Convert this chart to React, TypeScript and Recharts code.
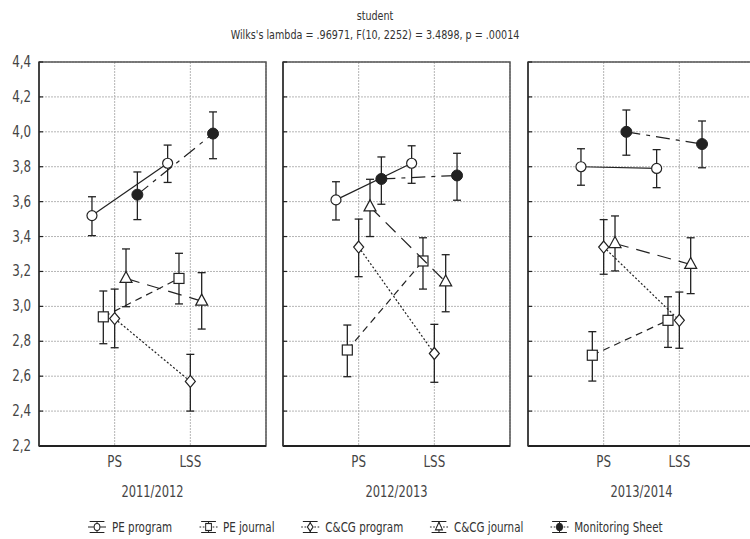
import React from 'react';
import {
  ScatterChart,
  Scatter,
  XAxis,
  YAxis,
  CartesianGrid,
  ErrorBar,
  ReferenceArea,
} from 'recharts';

// panels and categories
const periods = ['2011/2012', '2012/2013', '2013/2014'];
const stages = ['PS', 'LSS'];
const yTicks = [2.2, 2.4, 2.6, 2.8, 3.0, 3.2, 3.4, 3.6, 3.8, 4.0, 4.2, 4.4];

// means [panel][stage] and the error bar ends
const peProgram = [[3.52, 3.82], [3.61, 3.82], [3.8, 3.79]];
const peProgramLo = [[3.405, 3.71], [3.495, 3.705], [3.694, 3.68]];
const peProgramHi = [[3.628, 3.924], [3.714, 3.92], [3.903, 3.898]];

const peJournal = [[2.94, 3.16], [2.75, 3.26], [2.72, 2.92]];
const peJournalLo = [[2.786, 3.014], [2.597, 3.099], [2.572, 2.765]];
const peJournalHi = [[3.088, 3.304], [2.893, 3.393], [2.855, 3.055]];

const ccgProgram = [[2.93, 2.57], [3.34, 2.73], [3.34, 2.92]];
const ccgProgramLo = [[2.763, 2.4], [3.17, 2.565], [3.184, 2.76]];
const ccgProgramHi = [[3.099, 2.725], [3.5, 2.897], [3.497, 3.082]];

const ccgJournal = [[3.16, 3.03], [3.57, 3.14], [3.36, 3.24]];
const ccgJournalLo = [[2.998, 2.87], [3.4, 2.969], [3.203, 3.073]];
const ccgJournalHi = [[3.329, 3.193], [3.728, 3.296], [3.518, 3.393]];

const monitoring = [[3.64, 3.99], [3.73, 3.75], [4.0, 3.93]];
const monitoringLo = [[3.497, 3.846], [3.585, 3.608], [3.866, 3.794]];
const monitoringHi = [[3.77, 4.114], [3.856, 3.877], [4.125, 4.062]];

const INK = '#222';
const TXT = '#444';
const FONT = '"Liberation Sans Narrow", "DejaVu Sans Condensed", "Roboto", sans-serif';

type Marker = 'circle' | 'square' | 'diamond' | 'triangle' | 'dot';

const series = [
  { name: 'PE program', mean: peProgram, lo: peProgramLo, hi: peProgramHi, marker: 'circle' as Marker, dash: undefined, shift: -0.3 },
  { name: 'PE journal', mean: peJournal, lo: peJournalLo, hi: peJournalHi, marker: 'square' as Marker, dash: '7 5', shift: -0.15 },
  { name: 'C&CG program', mean: ccgProgram, lo: ccgProgramLo, hi: ccgProgramHi, marker: 'diamond' as Marker, dash: '2 2', shift: 0 },
  { name: 'C&CG journal', mean: ccgJournal, lo: ccgJournalLo, hi: ccgJournalHi, marker: 'triangle' as Marker, dash: '14 8', shift: 0.15 },
  { name: 'Monitoring Sheet', mean: monitoring, lo: monitoringLo, hi: monitoringHi, marker: 'dot' as Marker, dash: '14 6 4 6', shift: 0.3 },
];

function drawMarker(kind: Marker, cx: number, cy: number, s = 1) {
  const sw = 1.2;
  switch (kind) {
    case 'circle':
      return <circle cx={cx} cy={cy} r={5 * s} fill="#fff" stroke={INK} strokeWidth={sw} />;
    case 'square':
      return <rect x={cx - 5 * s} y={cy - 5 * s} width={10 * s} height={10 * s} fill="#fff" stroke={INK} strokeWidth={sw} />;
    case 'diamond':
      return (
        <polygon
          points={`${cx},${cy - 6 * s} ${cx + 5 * s},${cy} ${cx},${cy + 6 * s} ${cx - 5 * s},${cy}`}
          fill="#fff" stroke={INK} strokeWidth={sw}
        />
      );
    case 'triangle':
      return (
        <polygon
          points={`${cx},${cy - 7 * s} ${cx + 6 * s},${cy + 4 * s} ${cx - 6 * s},${cy + 4 * s}`}
          fill="#fff" stroke={INK} strokeWidth={sw}
        />
      );
    default:
      return <circle cx={cx} cy={cy} r={5.5 * s} fill={INK} stroke={INK} strokeWidth={1} />;
  }
}

const fmt = (v: number) => v.toFixed(1).replace('.', ',');

// narrow font look: squeeze svg text horizontally
const LeftTick = (props: any) => {
  const { x, y, payload, showLabel } = props;
  const ax = x + 8;
  return (
    <g>
      {showLabel && (
        <text
          transform={`translate(${x},${y + 5}) scale(0.88,1)`}
          textAnchor="end" fill={TXT} fontSize={15} fontFamily={FONT}
        >
          {fmt(payload.value)}
        </text>
      )}
      <line x1={ax} x2={ax + 4} y1={y} y2={y} stroke={INK} strokeWidth={1.2} />
    </g>
  );
};

const RightTick = (props: any) => {
  const { x, y } = props;
  return <line x1={x - 4} x2={x} y1={y} y2={y} stroke={INK} strokeWidth={1.2} />;
};

const XTick = (props: any) => {
  const { x, y, payload } = props;
  return (
    <text
      transform={`translate(${x},${y + 13}) scale(0.88,1)`}
      textAnchor="middle" fill={TXT} fontSize={15} fontFamily={FONT}
    >
      {stages[payload.value - 1]}
    </text>
  );
};

const YearLabel = (props: any) => {
  const { viewBox, value } = props;
  const cx = viewBox.x + viewBox.width / 2;
  return (
    <text
      transform={`translate(${cx},${viewBox.y + 51}) scale(0.85,1)`}
      textAnchor="middle" fill={TXT} fontSize={15} fontFamily={FONT}
    >
      {value}
    </text>
  );
};

function Panel({ p }: { p: number }) {
  return (
    <ScatterChart width={271} height={510} margin={{ top: 62, right: 5, bottom: 0, left: 0 }}>
      <CartesianGrid stroke="#b5b5b5" strokeDasharray="2 1" />
      <XAxis
        type="number"
        dataKey="x"
        domain={[0, 3]}
        ticks={[1, 2]}
        height={64}
        tickLine={false}
        tickSize={0}
        tickMargin={8}
        axisLine={{ stroke: INK, strokeWidth: 2 }}
        tick={<XTick />}
        label={<YearLabel value={periods[p]} />}
      />
      <YAxis
        type="number"
        dataKey="y"
        domain={[2.2, 4.4]}
        ticks={yTicks}
        width={39}
        tickLine={false}
        tickSize={0}
        tickMargin={8}
        axisLine={{ stroke: '#444', strokeWidth: 2 }}
        tick={<LeftTick showLabel={p === 0} />}
        interval={0}
      />
      <YAxis
        yAxisId="r"
        orientation="right"
        type="number"
        domain={[2.2, 4.4]}
        ticks={yTicks}
        width={0}
        tickLine={false}
        tickSize={0}
        tickMargin={0}
        axisLine={false}
        tick={<RightTick />}
        interval={0}
      />
      <ReferenceArea x1={0} x2={3} y1={2.2} y2={4.4} fill="none" stroke="#555" strokeWidth={1.5} />
      {series.map((s) => {
        const pts = stages.map((_, i) => ({
          x: i + 1 + s.shift,
          y: s.mean[p][i],
          err: [s.mean[p][i] - s.lo[p][i], s.hi[p][i] - s.mean[p][i]],
        }));
        return (
          <Scatter
            key={s.name}
            name={s.name}
            data={pts}
            isAnimationActive={false}
            line={{ stroke: INK, strokeWidth: 1.2, strokeDasharray: s.dash }}
            lineType="joint"
            shape={(props: any) => drawMarker(s.marker, props.cx, props.cy)}
          >
            <ErrorBar dataKey="err" direction="y" width={4} stroke={INK} strokeWidth={1.3} />
          </Scatter>
        );
      })}
    </ScatterChart>
  );
}

function LegendItem({ s }: { s: (typeof series)[number] }) {
  return (
    <div style={{ display: 'flex', alignItems: 'center', gap: 6 }}>
      <svg width={24} height={14}>
        <line x1={3} x2={21} y1={1.5} y2={1.5} stroke={INK} strokeWidth={1.2} />
        <line x1={3} x2={21} y1={12.5} y2={12.5} stroke={INK} strokeWidth={1.2} />
        <line x1={12} x2={12} y1={1.5} y2={12.5} stroke={INK} strokeWidth={1.2} />
        <line x1={1} x2={23} y1={7} y2={7} stroke={INK} strokeWidth={1.2} strokeDasharray={s.dash ? '2 2' : undefined} />
        {drawMarker(s.marker, 12, 7, 0.7)}
      </svg>
      <span>{s.name}</span>
    </div>
  );
}

const panelLeft = [0, 244, 489];

export default function App() {
  return (
    <div
      style={{
        position: 'absolute',
        left: 0,
        top: 0,
        width: 750,
        height: 539,
        overflow: 'hidden',
        background: '#fff',
        fontFamily: FONT,
        color: '#333',
      }}
    >
      <div
        style={{
          position: 'absolute',
          top: 6,
          left: 0,
          width: 750,
          textAlign: 'center',
          fontSize: 13,
          lineHeight: '19px',
          transform: 'scaleX(0.82)',
        }}
      >
        <div>student</div>
        <div>Wilks's lambda = .96971, F(10, 2252) = 3.4898, p = .00014</div>
      </div>
      {periods.map((_, p) => (
        <div
          key={p}
          style={{
            position: 'absolute',
            top: 0,
            left: panelLeft[p],
            width: 271,
            height: 510,
          }}
        >
          <Panel p={p} />
        </div>
      ))}
      <div
        style={{
          position: 'absolute',
          top: 519,
          left: 0,
          width: 750,
          display: 'flex',
          justifyContent: 'center',
          gap: 32,
          fontSize: 14,
          transform: 'scaleX(0.82)',
        }}
      >
        {series.map((s) => (
          <LegendItem key={s.name} s={s} />
        ))}
      </div>
    </div>
  );
}
